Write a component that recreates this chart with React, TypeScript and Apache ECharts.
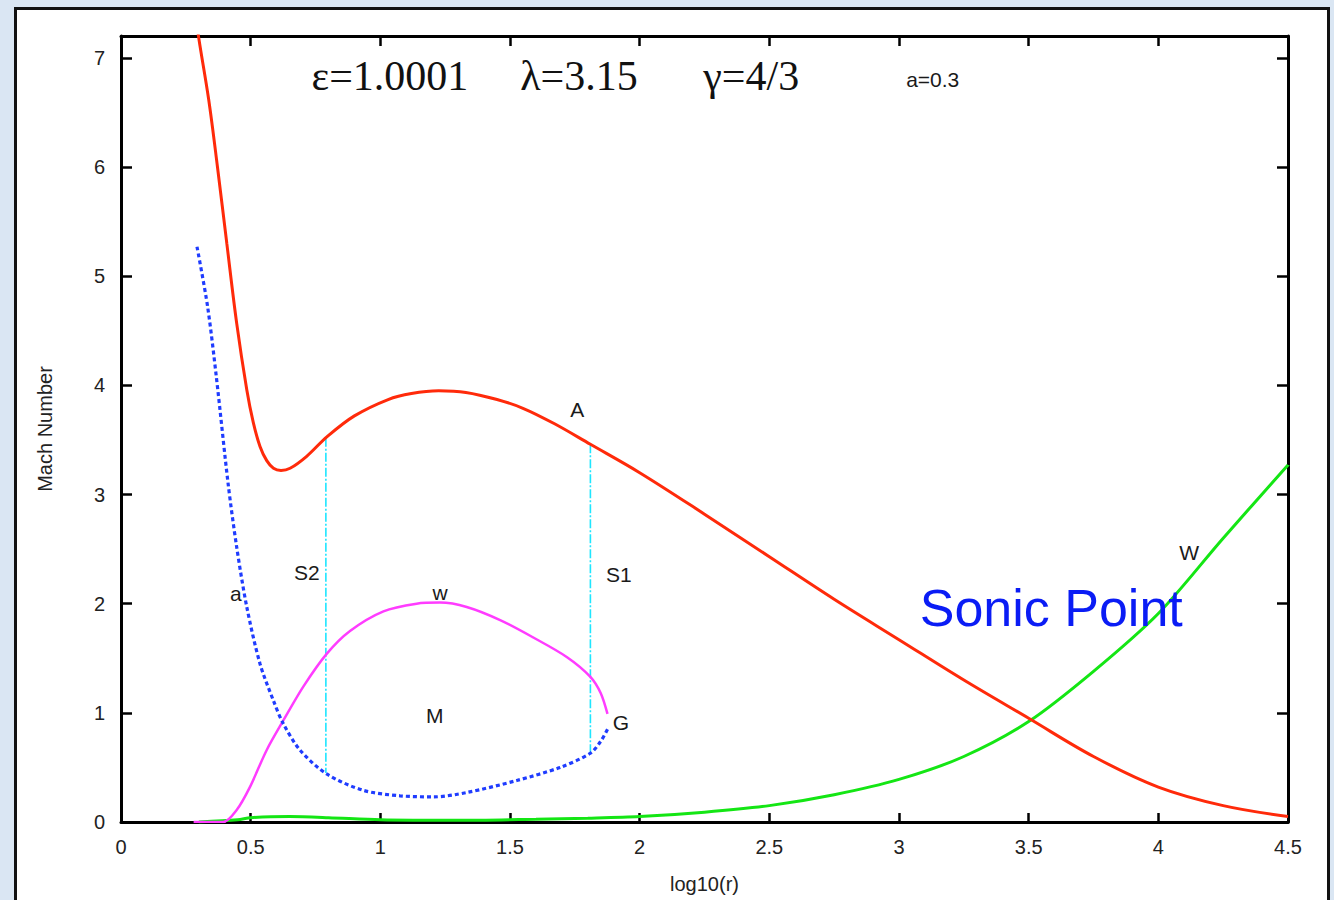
import React, { useEffect, useRef } from "react";
import * as echarts from "echarts";

// log10(r) vs Mach number
const curveA: [number, number][] = [
  [0.288, 7.4], [0.3, 7.18], [0.338, 6.62], [0.372, 6.0], [0.408, 5.3], [0.446, 4.57],
  [0.485, 3.96], [0.51, 3.66], [0.536, 3.44], [0.562, 3.31], [0.588, 3.24],
  [0.617, 3.22], [0.652, 3.24], [0.716, 3.35], [0.795, 3.53], [0.9, 3.72],
  [1.03, 3.87], [1.12, 3.925], [1.225, 3.95], [1.33, 3.935], [1.45, 3.87],
  [1.55, 3.79], [1.67, 3.65], [1.81, 3.46], [2.0, 3.2],
  [2.25, 2.82], [2.5, 2.43], [2.75, 2.04], [3.0, 1.67], [3.25, 1.3],
  [3.5, 0.95], [3.75, 0.6], [4.0, 0.32], [4.25, 0.15], [4.5, 0.05],
];
const curveSmallA: [number, number][] = [
  [0.293, 5.27], [0.334, 4.72], [0.368, 4.07], [0.413, 3.1], [0.446, 2.52],
  [0.485, 1.97], [0.536, 1.45], [0.588, 1.11], [0.626, 0.9], [0.69, 0.66],
  [0.793, 0.44], [0.934, 0.29], [1.076, 0.24], [1.205, 0.23], [1.333, 0.27],
  [1.526, 0.38], [1.693, 0.5], [1.81, 0.63], [1.85, 0.74], [1.876, 0.85],
];
const curveW: [number, number][] = [
  [0.28, 0.0], [0.394, 0.0], [0.446, 0.11], [0.497, 0.32], [0.562, 0.66],
  [0.626, 0.93], [0.703, 1.24], [0.793, 1.54], [0.883, 1.75], [1.012, 1.93],
  [1.14, 2.0], [1.23, 2.01], [1.333, 1.97], [1.462, 1.85], [1.59, 1.69],
  [1.72, 1.51], [1.81, 1.33], [1.85, 1.18], [1.876, 0.99],
];
const curveBigW: [number, number][] = [
  [0.3, 0.0], [0.45, 0.02], [0.5, 0.04], [0.65, 0.05], [0.8, 0.04], [1.0, 0.02],
  [1.3, 0.015], [1.6, 0.025], [1.8, 0.035], [2.0, 0.05], [2.25, 0.09],
  [2.5, 0.15], [2.75, 0.25], [3.0, 0.39], [3.25, 0.6], [3.5, 0.92],
  [3.75, 1.38], [4.0, 1.91], [4.25, 2.6], [4.5, 3.27],
];
const shockS2: [number, number][] = [[0.79, 3.52], [0.79, 0.45]];
const shockS1: [number, number][] = [[1.81, 3.46], [1.81, 0.63]];

const xTicks = [0, 0.5, 1, 1.5, 2, 2.5, 3, 3.5, 4, 4.5];
const yTicks = [0, 1, 2, 3, 4, 5, 6, 7];

const curveLabels: { text: string; x: number; y: number }[] = [
  { text: "A", x: 1.759, y: 3.78 },
  { text: "S2", x: 0.717, y: 2.29 },
  { text: "S1", x: 1.92, y: 2.27 },
  { text: "a", x: 0.443, y: 2.09 },
  { text: "w", x: 1.23, y: 2.1 },
  { text: "M", x: 1.21, y: 0.98 },
  { text: "G", x: 1.928, y: 0.91 },
  { text: "W", x: 4.119, y: 2.47 },
];
const paramLabels: { text: string; x: number; y: number }[] = [
  { text: "ε=1.0001", x: 1.037, y: 6.83 },
  { text: "λ=3.15", x: 1.766, y: 6.83 },
  { text: "γ=4/3", x: 2.43, y: 6.83 },
];
const smallParam = { text: "a=0.3", x: 3.13, y: 6.8 };
const sonicPoint = { text: "Sonic Point", x: 3.587, y: 1.96 };

const SANS = "'Liberation Sans', Arial, sans-serif";
const SERIF = "'Liberation Serif', 'Times New Roman', serif";

export default function App() {
  const ref = useRef<HTMLDivElement>(null);
  useEffect(() => {
    if (!ref.current) return;
    const chart = echarts.init(ref.current, null, { renderer: "svg" });
    const axisLine = { show: true, onZero: false, lineStyle: { color: "#000", width: 3 } };
    const tick = (len: number) => ({ show: true, inside: true, length: len, lineStyle: { color: "#000", width: 2.5 } });
    const annData = [
      ...curveLabels.map((l) => ({
        name: l.text, value: [l.x, l.y],
        label: { fontSize: 21, color: "#1a1a1a", fontFamily: SANS },
      })),
      ...paramLabels.map((l) => ({
        name: l.text, value: [l.x, l.y],
        label: { fontSize: 42, color: "#111", fontFamily: SERIF },
      })),
      {
        name: smallParam.text, value: [smallParam.x, smallParam.y],
        label: { fontSize: 21, color: "#1a1a1a", fontFamily: SANS },
      },
      {
        name: sonicPoint.text, value: [sonicPoint.x, sonicPoint.y],
        label: { fontSize: 52, color: "#0a1cf5", fontFamily: SANS },
      },
    ];
    chart.setOption({
      animation: false,
      backgroundColor: "transparent",
      grid: { left: 121, right: 46, top: 36, bottom: 78, containLabel: false },
      xAxis: [
        {
          type: "value", min: xTicks[0], max: xTicks[xTicks.length - 1], interval: 0.5, position: "bottom",
          axisLine, axisTick: tick(9), splitLine: { show: false },
          axisLabel: { fontSize: 20, color: "#222", margin: 15, fontFamily: SANS },
          name: "log10(r)", nameLocation: "middle", nameGap: 52,
          nameTextStyle: { fontSize: 20, color: "#222", fontFamily: SANS },
        },
        {
          type: "value", min: xTicks[0], max: xTicks[xTicks.length - 1], interval: 0.5, position: "top",
          axisLine, axisTick: tick(10), splitLine: { show: false }, axisLabel: { show: false },
        },
      ],
      yAxis: [
        {
          type: "value", min: yTicks[0], max: 7.2, interval: 1, position: "left",
          axisLine, axisTick: tick(11), splitLine: { show: false },
          axisLabel: { fontSize: 20, color: "#222", margin: 16, fontFamily: SANS, showMaxLabel: false,
            formatter: (v: number) => (yTicks.includes(v) ? String(v) : "") },
          name: "Mach Number", nameLocation: "middle", nameGap: 66, nameRotate: 90,
          nameTextStyle: { fontSize: 20, color: "#222", fontFamily: SANS },
        },
        {
          type: "value", min: yTicks[0], max: 7.2, interval: 1, position: "right",
          axisLine, axisTick: tick(11), splitLine: { show: false }, axisLabel: { show: false },
        },
      ],
      series: [
        {
          type: "line", name: "W", data: curveBigW, showSymbol: false, smooth: 0.3,
          lineStyle: { color: "#14e614", width: 3 }, z: 3,
        },
        {
          type: "line", name: "S2", data: shockS2, showSymbol: false,
          lineStyle: { color: "#1ee6ff", width: 1.6, type: [9, 2, 2, 2] }, z: 2,
        },
        {
          type: "line", name: "S1", data: shockS1, showSymbol: false,
          lineStyle: { color: "#1ee6ff", width: 1.6, type: [9, 2, 2, 2] }, z: 2,
        },
        {
          type: "line", name: "w", data: curveW, showSymbol: false, smooth: 0.3,
          lineStyle: { color: "#ff3cff", width: 2.5 }, z: 4,
        },
        {
          type: "line", name: "a", data: curveSmallA, showSymbol: false, smooth: 0.3,
          lineStyle: { color: "#1f3cff", width: 3.2, type: [4, 3] }, z: 5,
        },
        {
          type: "line", name: "A", data: curveA, showSymbol: false, smooth: 0.35,
          lineStyle: { color: "#ff2a0a", width: 3 }, z: 6,
        },
        {
          type: "scatter", name: "labels", data: annData, symbolSize: 1,
          itemStyle: { color: "transparent", opacity: 1 }, silent: true, z: 10,
          label: { show: true, position: "inside", formatter: "{b}", opacity: 1 },
        },
      ],
    });
    return () => chart.dispose();
  }, []);
  return (
    <div style={{ position: "fixed", left: 0, top: 0, width: 1334, height: 900, background: "#dae6f3", overflow: "hidden" }}>
      <div style={{ position: "absolute", left: 14, top: 7, width: 1316, height: 920, boxSizing: "border-box", border: "3px solid #111", background: "#fff" }} />
      <div ref={ref} style={{ position: "absolute", left: 0, top: 0, width: 1334, height: 900 }} />
    </div>
  );
}
